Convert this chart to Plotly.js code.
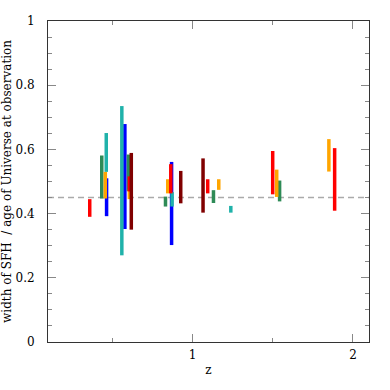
<!DOCTYPE html>
<html>
<head>
<meta charset="utf-8">
<script src="https://cdn.plot.ly/plotly-3.0.1.min.js"></script>
<style>
  html, body { margin: 0; padding: 0; background: #fff; }
  #chart { width: 390px; height: 390px; }
</style>
</head>
<body>
<div id="chart"></div>
<script>
// one floating bar per galaxy: redshift, lower and upper end of the ratio
var z  = [0.36, 0.435, 0.457, 0.463, 0.465, 0.560, 0.579, 0.601, 0.607, 0.607, 0.619,
          0.832, 0.846, 0.865, 0.870, 0.873, 0.927, 1.066, 1.095, 1.131, 1.164, 1.239,
          1.500, 1.525, 1.543, 1.850, 1.886];
var lo = [0.390, 0.447, 0.447, 0.530, 0.392, 0.270, 0.352, 0.470, 0.469, 0.445, 0.350,
          0.422, 0.463, 0.463, 0.302, 0.422, 0.432, 0.403, 0.463, 0.433, 0.474, 0.403,
          0.460, 0.452, 0.438, 0.531, 0.409];
var hi = [0.445, 0.581, 0.530, 0.651, 0.510, 0.735, 0.679, 0.584, 0.516, 0.475, 0.589,
          0.453, 0.507, 0.554, 0.561, 0.467, 0.533, 0.572, 0.507, 0.473, 0.507, 0.424,
          0.595, 0.537, 0.503, 0.632, 0.604];
// sample each bar belongs to
var group = ['red', 'green', 'orange', 'teal', 'blue', 'teal', 'blue', 'green', 'red', 'orange', 'maroon',
             'green', 'orange', 'red', 'blue', 'teal', 'maroon', 'maroon', 'red', 'green', 'orange', 'teal',
             'red', 'orange', 'green', 'orange', 'red'];

var refLevel = 0.45;

// drawing order and colours
var order = ['blue', 'green', 'orange', 'teal', 'red', 'maroon'];
var palette = {
    blue: '#0000ff',
    green: '#2e8b57',
    orange: '#ffa500',
    teal: '#20b2aa',
    red: '#ff0000',
    maroon: '#800000'
};

var data = order.map(function (g) {
    var xs = [], ys = [];
    for (var i = 0; i < z.length; i++) {
        if (group[i] !== g) continue;
        xs.push(z[i], z[i], null);
        ys.push(lo[i], hi[i], null);
    }
    return {
        x: xs, y: ys,
        type: 'scatter', mode: 'lines',
        line: {color: palette[g], width: 3.5},
        connectgaps: false,
        hoverinfo: 'skip',
        showlegend: false
    };
});

var font = {family: '"DejaVu Serif", serif', size: 12, color: '#000'};

var layout = {
    width: 390, height: 390,
    margin: {l: 48, r: 21, t: 21, b: 48},
    paper_bgcolor: '#fff', plot_bgcolor: '#fff',
    font: font,
    xaxis: {
        range: [0.1, 2.1],
        tickmode: 'linear', tick0: 0, dtick: 1,
        ticks: 'inside', ticklen: 8, tickcolor: '#888', tickwidth: 1,
        minor: {dtick: 0.5, ticks: 'inside', ticklen: 4, tickcolor: '#888', showgrid: false},
        showgrid: false, zeroline: false,
        showline: true, linecolor: '#333', linewidth: 1, mirror: 'ticks',
        ticklabelstandoff: 2,
        title: {text: 'z', font: font, standoff: 4}
    },
    yaxis: {
        range: [0, 1],
        tickmode: 'linear', tick0: 0, dtick: 0.2,
        ticks: 'inside', ticklen: 8, tickcolor: '#888', tickwidth: 1,
        minor: {dtick: 0.05, ticks: 'inside', ticklen: 4, tickcolor: '#888', showgrid: false},
        showgrid: false, zeroline: false,
        showline: true, linecolor: '#333', linewidth: 1, mirror: 'ticks',
        ticklabelstandoff: 10,
        title: {text: 'width of SFH  / age of Universe at observation', font: font, standoff: 6}
    },
    shapes: [{
        type: 'line', layer: 'below',
        xref: 'paper', x0: 0, x1: 1,
        yref: 'y', y0: refLevel, y1: refLevel,
        line: {color: '#aaaaaa', width: 1.5, dash: '6px,4px'}
    }]
};

Plotly.newPlot('chart', data, layout, {displayModeBar: false, staticPlot: true});
</script>
</body>
</html>
